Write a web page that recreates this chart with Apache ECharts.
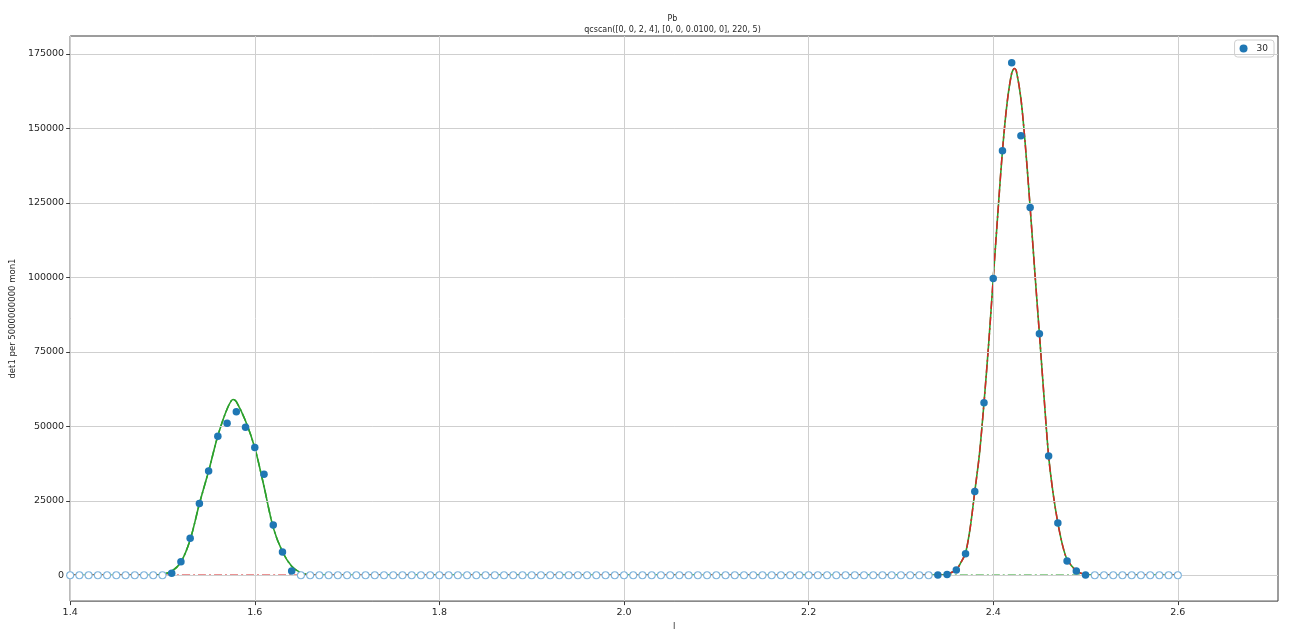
<!DOCTYPE html>
<html>
<head>
<meta charset="utf-8">
<title>Pb qcscan</title>
<script src="https://cdn.jsdelivr.net/npm/echarts@6/dist/echarts.min.js"></script>
<style>
  html, body { margin: 0; padding: 0; background: #ffffff; }
  #chart { width: 1295px; height: 636px; }
</style>
</head>
<body>
<div id="chart"></div>
<script>
// Scan positions along l and detector counts (det1 per 5e9 mon1)
const scanL = [
  1.40, 1.41, 1.42, 1.43, 1.44, 1.45, 1.46, 1.47, 1.48, 1.49,
  1.50, 1.51, 1.52, 1.53, 1.54, 1.55, 1.56, 1.57, 1.58, 1.59,
  1.60, 1.61, 1.62, 1.63, 1.64, 1.65, 1.66, 1.67, 1.68, 1.69,
  1.70, 1.71, 1.72, 1.73, 1.74, 1.75, 1.76, 1.77, 1.78, 1.79,
  1.80, 1.81, 1.82, 1.83, 1.84, 1.85, 1.86, 1.87, 1.88, 1.89,
  1.90, 1.91, 1.92, 1.93, 1.94, 1.95, 1.96, 1.97, 1.98, 1.99,
  2.00, 2.01, 2.02, 2.03, 2.04, 2.05, 2.06, 2.07, 2.08, 2.09,
  2.10, 2.11, 2.12, 2.13, 2.14, 2.15, 2.16, 2.17, 2.18, 2.19,
  2.20, 2.21, 2.22, 2.23, 2.24, 2.25, 2.26, 2.27, 2.28, 2.29,
  2.30, 2.31, 2.32, 2.33, 2.34, 2.35, 2.36, 2.37, 2.38, 2.39,
  2.40, 2.41, 2.42, 2.43, 2.44, 2.45, 2.46, 2.47, 2.48, 2.49,
  2.50, 2.51, 2.52, 2.53, 2.54, 2.55, 2.56, 2.57, 2.58, 2.59,
  2.60
];
const scanCounts = [
  0, 0, 0, 0, 0, 0, 0, 0, 0, 0,
  0, 670, 4580, 12390, 24100, 35040, 46650, 51000, 54900, 49660,
  42850, 33930, 16850, 7810, 1450, 0, 0, 0, 0, 0,
  0, 0, 0, 0, 0, 0, 0, 0, 0, 0,
  0, 0, 0, 0, 0, 0, 0, 0, 0, 0,
  0, 0, 0, 0, 0, 0, 0, 0, 0, 0,
  0, 0, 0, 0, 0, 0, 0, 0, 0, 0,
  0, 0, 0, 0, 0, 0, 0, 0, 0, 0,
  0, 0, 0, 0, 0, 0, 0, 0, 0, 0,
  0, 0, 0, 0, 110, 220, 1780, 7220, 28100, 57900,
  99600, 142500, 172000, 147500, 123450, 81100, 40000, 17560, 4780, 1440,
  110, 0, 0, 0, 0, 0, 0, 0, 0, 0,
  0
];

// l windows used by the fit; points outside are drawn hollow
const fitWindows = [[1.51, 1.64], [2.34, 2.50]];

// Fitted profile of the first peak (l, counts)
const fit1L = [1.40, 1.48, 1.49, 1.50, 1.51, 1.52, 1.53, 1.54, 1.55, 1.56, 1.57, 1.5765,
               1.58, 1.59, 1.60, 1.61, 1.62, 1.63, 1.64, 1.65, 1.66, 1.67, 1.68];
const fit1Y = [0, 0, 80, 350, 1340, 4460, 11940, 24000, 35000, 46800, 55800, 59000,
               58300, 51800, 42800, 29800, 16000, 7900, 3000, 800, 150, 20, 0];

// Fitted profile of the second peak (l, counts)
const fit2L = [2.33, 2.34, 2.35, 2.36, 2.365, 2.37, 2.375, 2.38, 2.385, 2.39, 2.395,
               2.40, 2.405, 2.41, 2.415, 2.42, 2.4229, 2.425, 2.43, 2.435, 2.44, 2.445,
               2.45, 2.455, 2.46, 2.465, 2.47, 2.475, 2.48, 2.49, 2.50, 2.51, 2.52, 2.60];
const fit2Y = [0, 50, 350, 1900, 4300, 7500, 15800, 28100, 40500, 57900, 77500,
               99600, 121500, 142500, 158500, 168500, 170100, 169300, 160000, 143500, 123400, 102000,
               81100, 60000, 40000, 27200, 17560, 10200, 5400, 1500, 250, 30, 0, 0];

// Axis ticks
const xTicks = [1.4, 1.6, 1.8, 2.0, 2.2, 2.4, 2.6];
const yTicks = [0, 25000, 50000, 75000, 100000, 125000, 150000, 175000];

const titleText = 'Pb';
const subtitleText = 'qcscan([0, 0, 2, 4], [0, 0, 0.0100, 0], 220, 5)';
const xName = 'l';
const yName = 'det1 per 5000000000 mon1';
const legendName = '30';

const pairs = (xs, ys) => xs.map((x, i) => [x, ys[i]]);
const inFit = (x) => fitWindows.some(([a, b]) => x >= a - 1e-9 && x <= b + 1e-9);

const fitted = [];
const hollow = [];
scanL.forEach((x, i) => {
  (inFit(x) ? fitted : hollow).push([x, scanCounts[i]]);
});

const peak1Curve = pairs(fit1L, fit1Y).concat([[2.60, 0]]);
const peak2Curve = [[1.40, 0]].concat(pairs(fit2L, fit2Y));
const totalCurve = pairs(fit1L, fit1Y).concat(pairs(fit2L, fit2Y));

const FONT = '"DejaVu Sans", "Liberation Sans", sans-serif';
const TXT = '#262626';

const chart = echarts.init(document.getElementById('chart'), null, { renderer: 'canvas' });

chart.setOption({
  animation: false,
  backgroundColor: '#ffffff',
  textStyle: { fontFamily: FONT },
  graphic: [
    { type: 'text', x: 672.5, y: 19, silent: true,
      style: { text: titleText, fill: TXT, font: '8px ' + FONT, align: 'center', verticalAlign: 'middle' } },
    { type: 'text', x: 672.5, y: 29.5, silent: true,
      style: { text: subtitleText, fill: TXT, font: '8px ' + FONT, align: 'center', verticalAlign: 'middle' } }
  ],
  grid: {
    left: 67, right: 17, top: 36, bottom: 31,
    show: true, borderColor: '#3a3a3a', borderWidth: 1, backgroundColor: 'transparent',
    containLabel: false
  },
  legend: {
    right: 21, top: 40,
    data: [{ name: legendName, icon: 'circle' }],
    itemWidth: 8, itemHeight: 8, itemGap: 4,
    padding: [4, 6, 4, 5],
    borderColor: '#d0d0d0', borderWidth: 1, borderRadius: 3,
    backgroundColor: 'rgba(255,255,255,0.85)',
    textStyle: { fontSize: 9, color: TXT, fontFamily: FONT, padding: [0, 0, 0, 4] }
  },
  xAxis: {
    type: 'value',
    min: 1.4, max: 2.7085,
    name: xName, nameLocation: 'middle', nameGap: 19,
    nameTextStyle: { fontSize: 8.5, color: TXT, fontFamily: FONT },
    axisLine: { show: false, onZero: false },
    axisTick: { show: true, length: 4, customValues: xTicks, lineStyle: { color: '#3a3a3a' } },
    axisLabel: { customValues: xTicks, fontSize: 9.5, color: TXT, margin: 6,
      formatter: (v) => v.toFixed(1) },
    splitLine: { show: false }
  },
  yAxis: {
    type: 'value',
    min: -8667, max: 181000,
    name: yName, nameLocation: 'middle', nameGap: 33, nameRotate: 90,
    nameTextStyle: { fontSize: 8.5, color: TXT, fontFamily: FONT },
    axisLine: { show: false, onZero: false },
    axisTick: { show: true, length: 4, customValues: yTicks, lineStyle: { color: '#3a3a3a' } },
    axisLabel: { customValues: yTicks, fontSize: 9.5, color: TXT, margin: 6,
      formatter: (v) => String(v) },
    splitLine: { show: false }
  },
  series: [
    {
      // grid lines at the tick positions
      type: 'line', data: [], silent: true, z: 1,
      markLine: {
        silent: true, symbol: ['none', 'none'], animation: false,
        label: { show: false },
        lineStyle: { color: '#cfcfcf', width: 1, type: 'solid' },
        data: xTicks.map((v) => ({ xAxis: v })).concat(yTicks.map((v) => ({ yAxis: v })))
      }
    },
    {
      name: 'fit', type: 'line', data: totalCurve, showSymbol: false, smooth: 0.3,
      z: 2, silent: true,
      lineStyle: { color: '#2ca02c', width: 1.6 }
    },
    {
      name: 'peak 1', type: 'line', data: peak1Curve, showSymbol: false, smooth: 0.3,
      z: 3, silent: true,
      lineStyle: { color: '#2ca02c', width: 1.5, type: [8, 3, 2, 3] }
    },
    {
      name: 'peak 2', type: 'line', data: peak2Curve, showSymbol: false, smooth: 0.3,
      z: 4, silent: true,
      lineStyle: { color: '#d62728', width: 1.5, type: [8, 3, 2, 3] }
    },
    {
      name: 'excluded', type: 'scatter', data: hollow, symbol: 'circle', symbolSize: 7,
      z: 5, silent: true,
      itemStyle: { color: '#ffffff', borderColor: '#7fb4dc', borderWidth: 1.1, opacity: 1 }
    },
    {
      name: legendName, type: 'scatter', data: fitted, symbol: 'circle', symbolSize: 7.5,
      z: 6, silent: true,
      itemStyle: { color: '#1f77b4', opacity: 1 }
    }
  ]
});
</script>
</body>
</html>
